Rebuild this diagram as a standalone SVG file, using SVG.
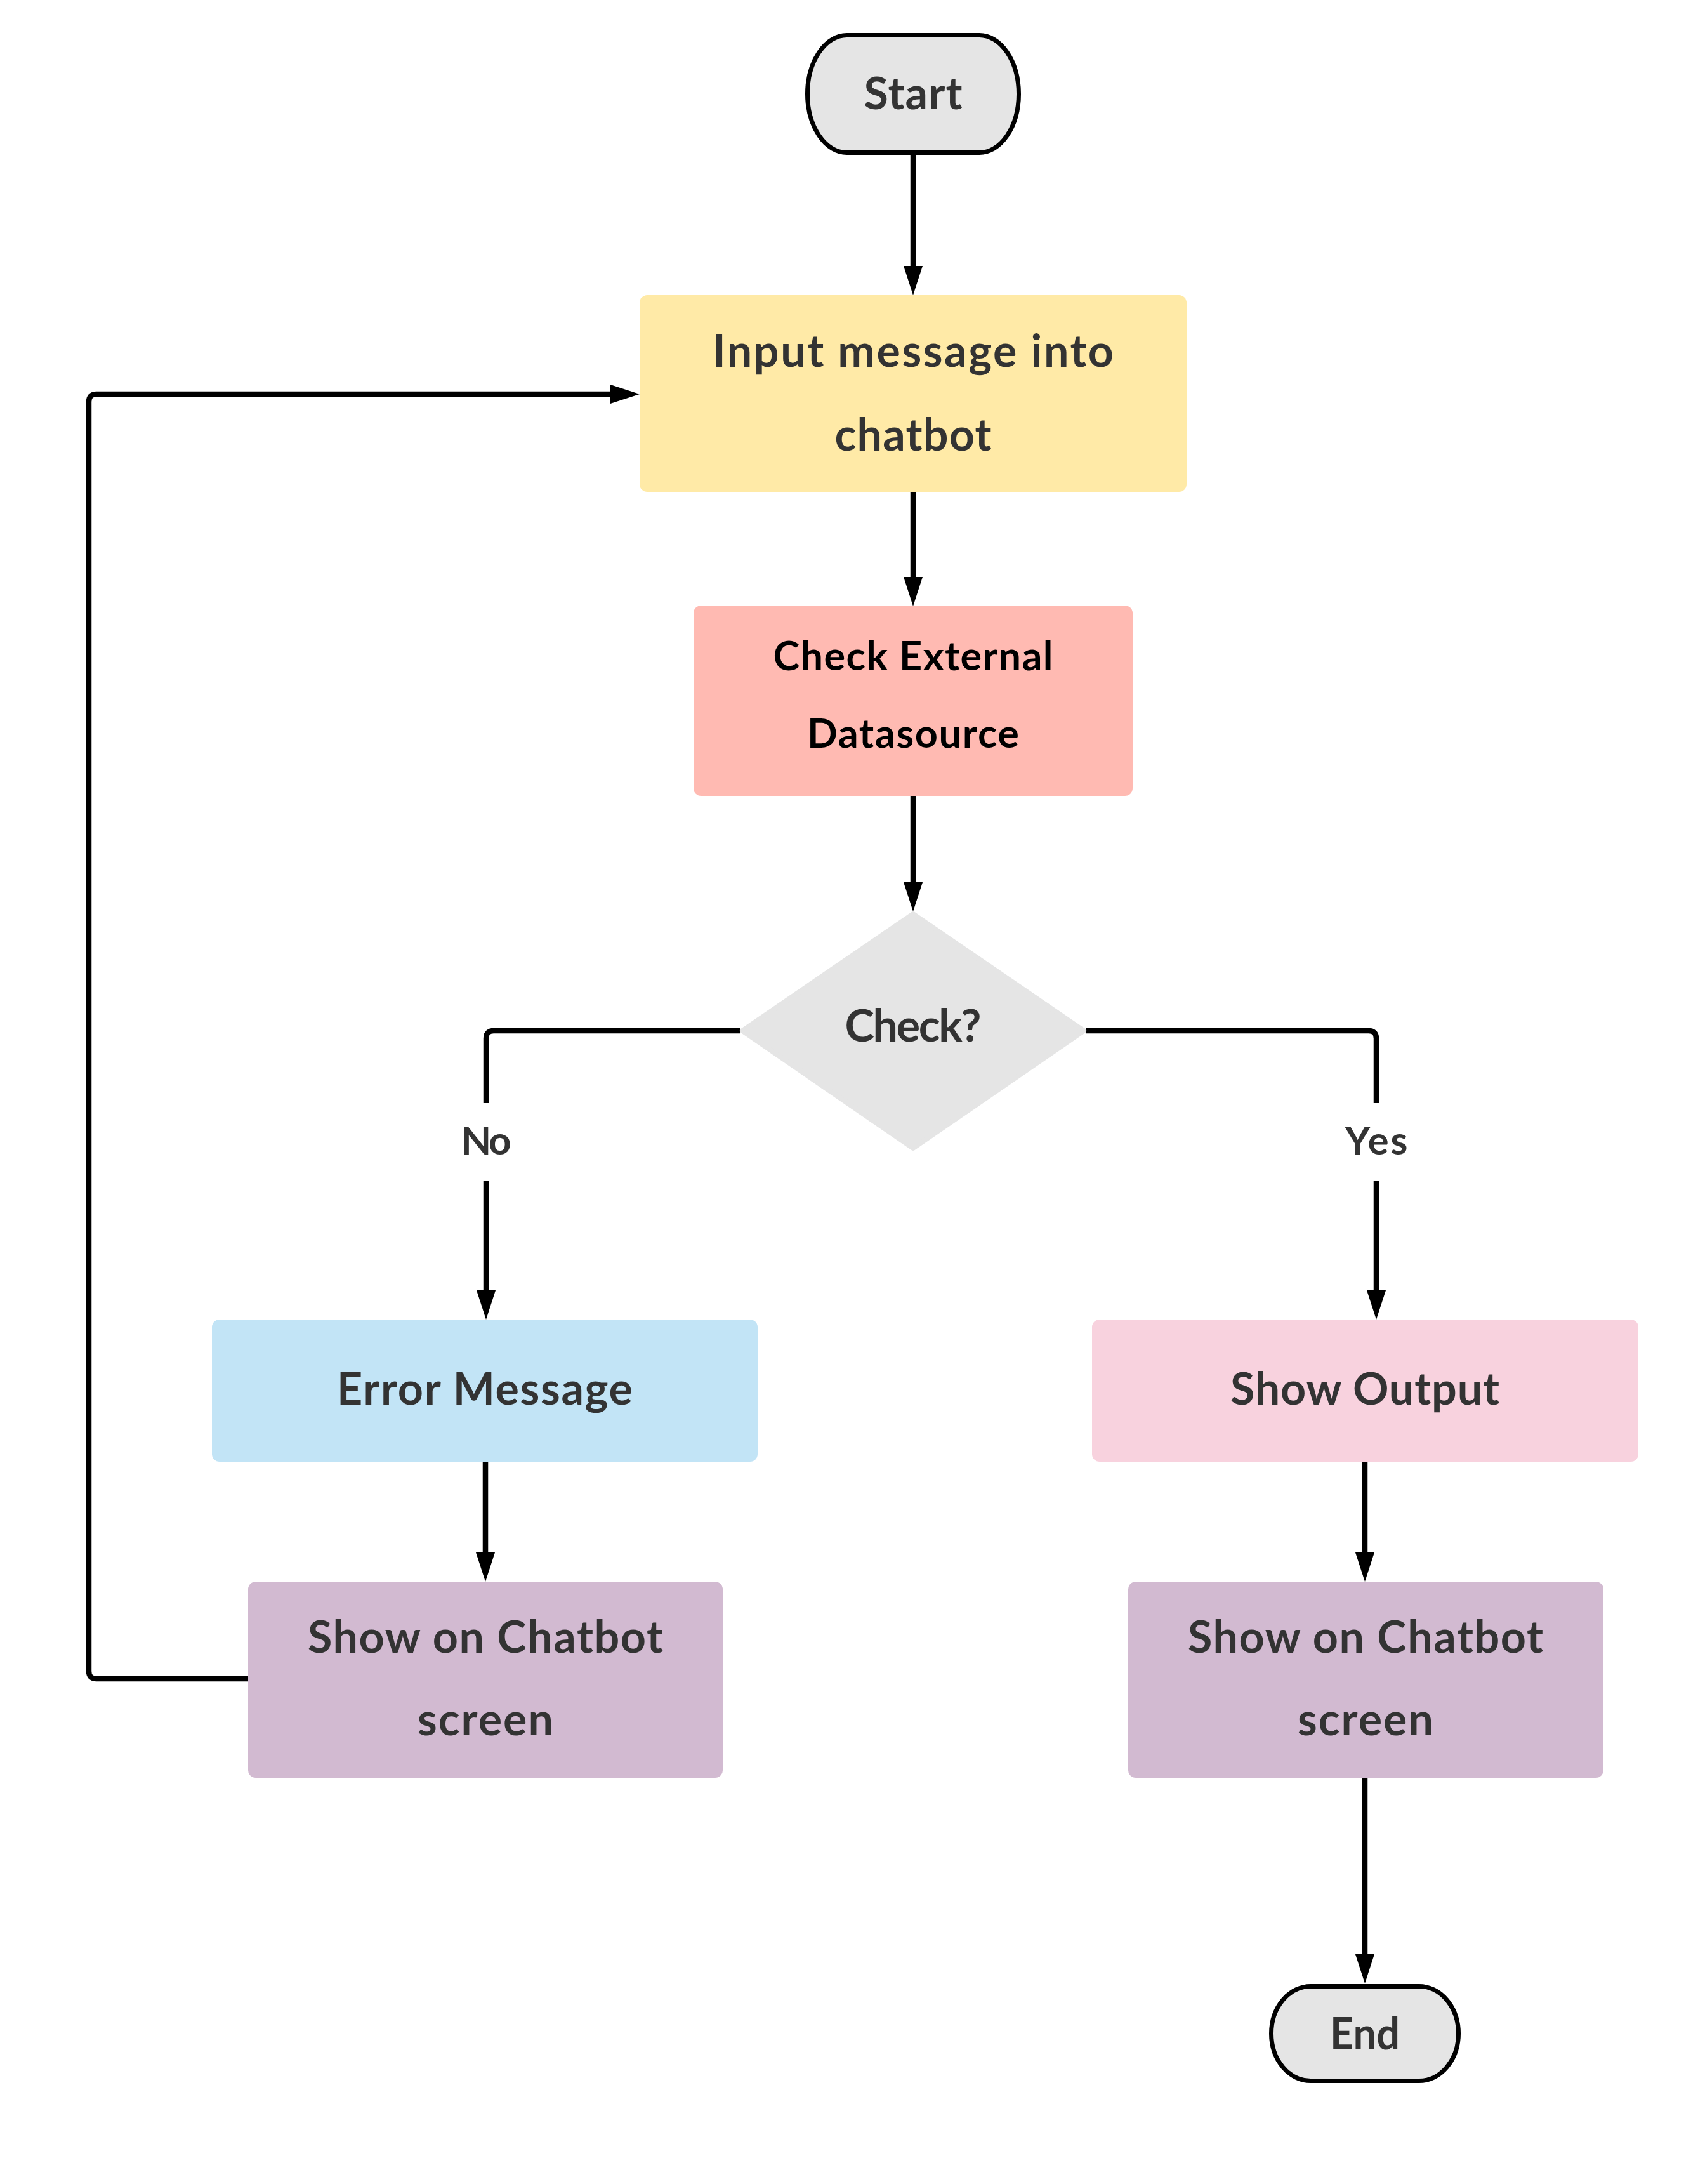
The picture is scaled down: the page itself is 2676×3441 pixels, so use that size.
<svg xmlns="http://www.w3.org/2000/svg" width="2676" height="3441" viewBox="0 0 2676 3441">
<defs>
<style>
.bg{fill:#ffffff}
.term{fill:#e5e5e5;stroke:#000;stroke-width:7}
.box{stroke:none}
.t{font-family:Lato,"Open Sans","Liberation Sans",sans-serif;font-weight:700;fill:#333333;text-anchor:middle}
.big{font-size:70px}
.mid{font-size:63px;fill:#000000}
.lbl{font-size:62px}
.conn{fill:none;stroke:#000;stroke-width:8.5;stroke-linejoin:round;marker-end:url(#arrow)}
</style>
<marker id="arrow" markerUnits="userSpaceOnUse" markerWidth="46" markerHeight="30" refX="0" refY="15" orient="auto" overflow="visible">
<path d="M0,0 L46,15 L0,30 Z" fill="#000"/>
</marker>
</defs>
<rect class="bg" x="0" y="0" width="2676" height="3441"/>

<g id="connectors">
<path class="conn" d="M1439,244 V419"/>
<path class="conn" d="M1439,775 V909"/>
<path class="conn" d="M1439,1253 V1390"/>
<path class="conn" d="M1166,1624 H778 Q766,1624 766,1636 V1738 M766,1860 V2033"/>
<path class="conn" d="M1712,1624 H2157 Q2169,1624 2169,1636 V1738 M2169,1860 V2033"/>
<path class="conn" d="M765,2303 V2446"/>
<path class="conn" d="M391,2645 H152 Q140,2645 140,2633 V633 Q140,621 152,621 H962"/>
<path class="conn" d="M2151,2303 V2446"/>
<path class="conn" d="M2151,2801 V3079"/>
</g>

<g id="start">
<rect class="term" x="1272.5" y="55.5" width="333" height="185" rx="62" ry="92.5"/>
<text class="t big" x="1439" y="172" textLength="155">Start</text>
</g>

<g id="input">
<rect class="box" x="1008" y="465" width="862" height="310" rx="12" fill="#ffeaa7"/>
<text class="t big" x="1439" y="578" textLength="632">Input message into</text>
<text class="t big" x="1439" y="710" textLength="247">chatbot</text>
</g>

<g id="check-external">
<rect class="box" x="1093" y="954" width="692" height="300" rx="12" fill="#ffbab2"/>
<text class="t mid" x="1439" y="1056" textLength="441">Check External</text>
<text class="t mid" x="1439" y="1178" textLength="334">Datasource</text>
</g>

<g id="decision">
<polygon points="1439,1440 1708,1624 1439,1809 1170,1624" fill="#e5e5e5" stroke="#e5e5e5" stroke-width="8" stroke-linejoin="round"/>
<text class="t big" x="1439" y="1641" textLength="215">Check?</text>
</g>

<g id="label-no">
<text class="t lbl" x="766" y="1819" textLength="79">No</text>
</g>
<g id="label-yes">
<text class="t lbl" x="2169" y="1819" textLength="99">Yes</text>
</g>

<g id="error-message">
<rect class="box" x="334" y="2079" width="860" height="224" rx="12" fill="#c2e4f6"/>
<text class="t big" x="764" y="2213" textLength="466">Error Message</text>
</g>

<g id="show-chatbot-left">
<rect class="box" x="391" y="2492" width="748" height="309" rx="12" fill="#d2bad1"/>
<text class="t big" x="765" y="2604" textLength="560">Show on Chatbot</text>
<text class="t big" x="765" y="2734" textLength="214">screen</text>
</g>

<g id="show-output">
<rect class="box" x="1721" y="2079" width="861" height="224" rx="12" fill="#f8d2de"/>
<text class="t big" x="2151" y="2213" textLength="424">Show Output</text>
</g>

<g id="show-chatbot-right">
<rect class="box" x="1778" y="2492" width="749" height="309" rx="12" fill="#d2bad1"/>
<text class="t big" x="2152" y="2604" textLength="560">Show on Chatbot</text>
<text class="t big" x="2152" y="2734" textLength="214">screen</text>
</g>

<g id="end">
<rect class="term" x="2003.5" y="3129.5" width="295" height="149" rx="62" ry="74.5"/>
<text class="t big" x="2151" y="3229" textLength="110" lengthAdjust="spacingAndGlyphs">End</text>
</g>
</svg>
